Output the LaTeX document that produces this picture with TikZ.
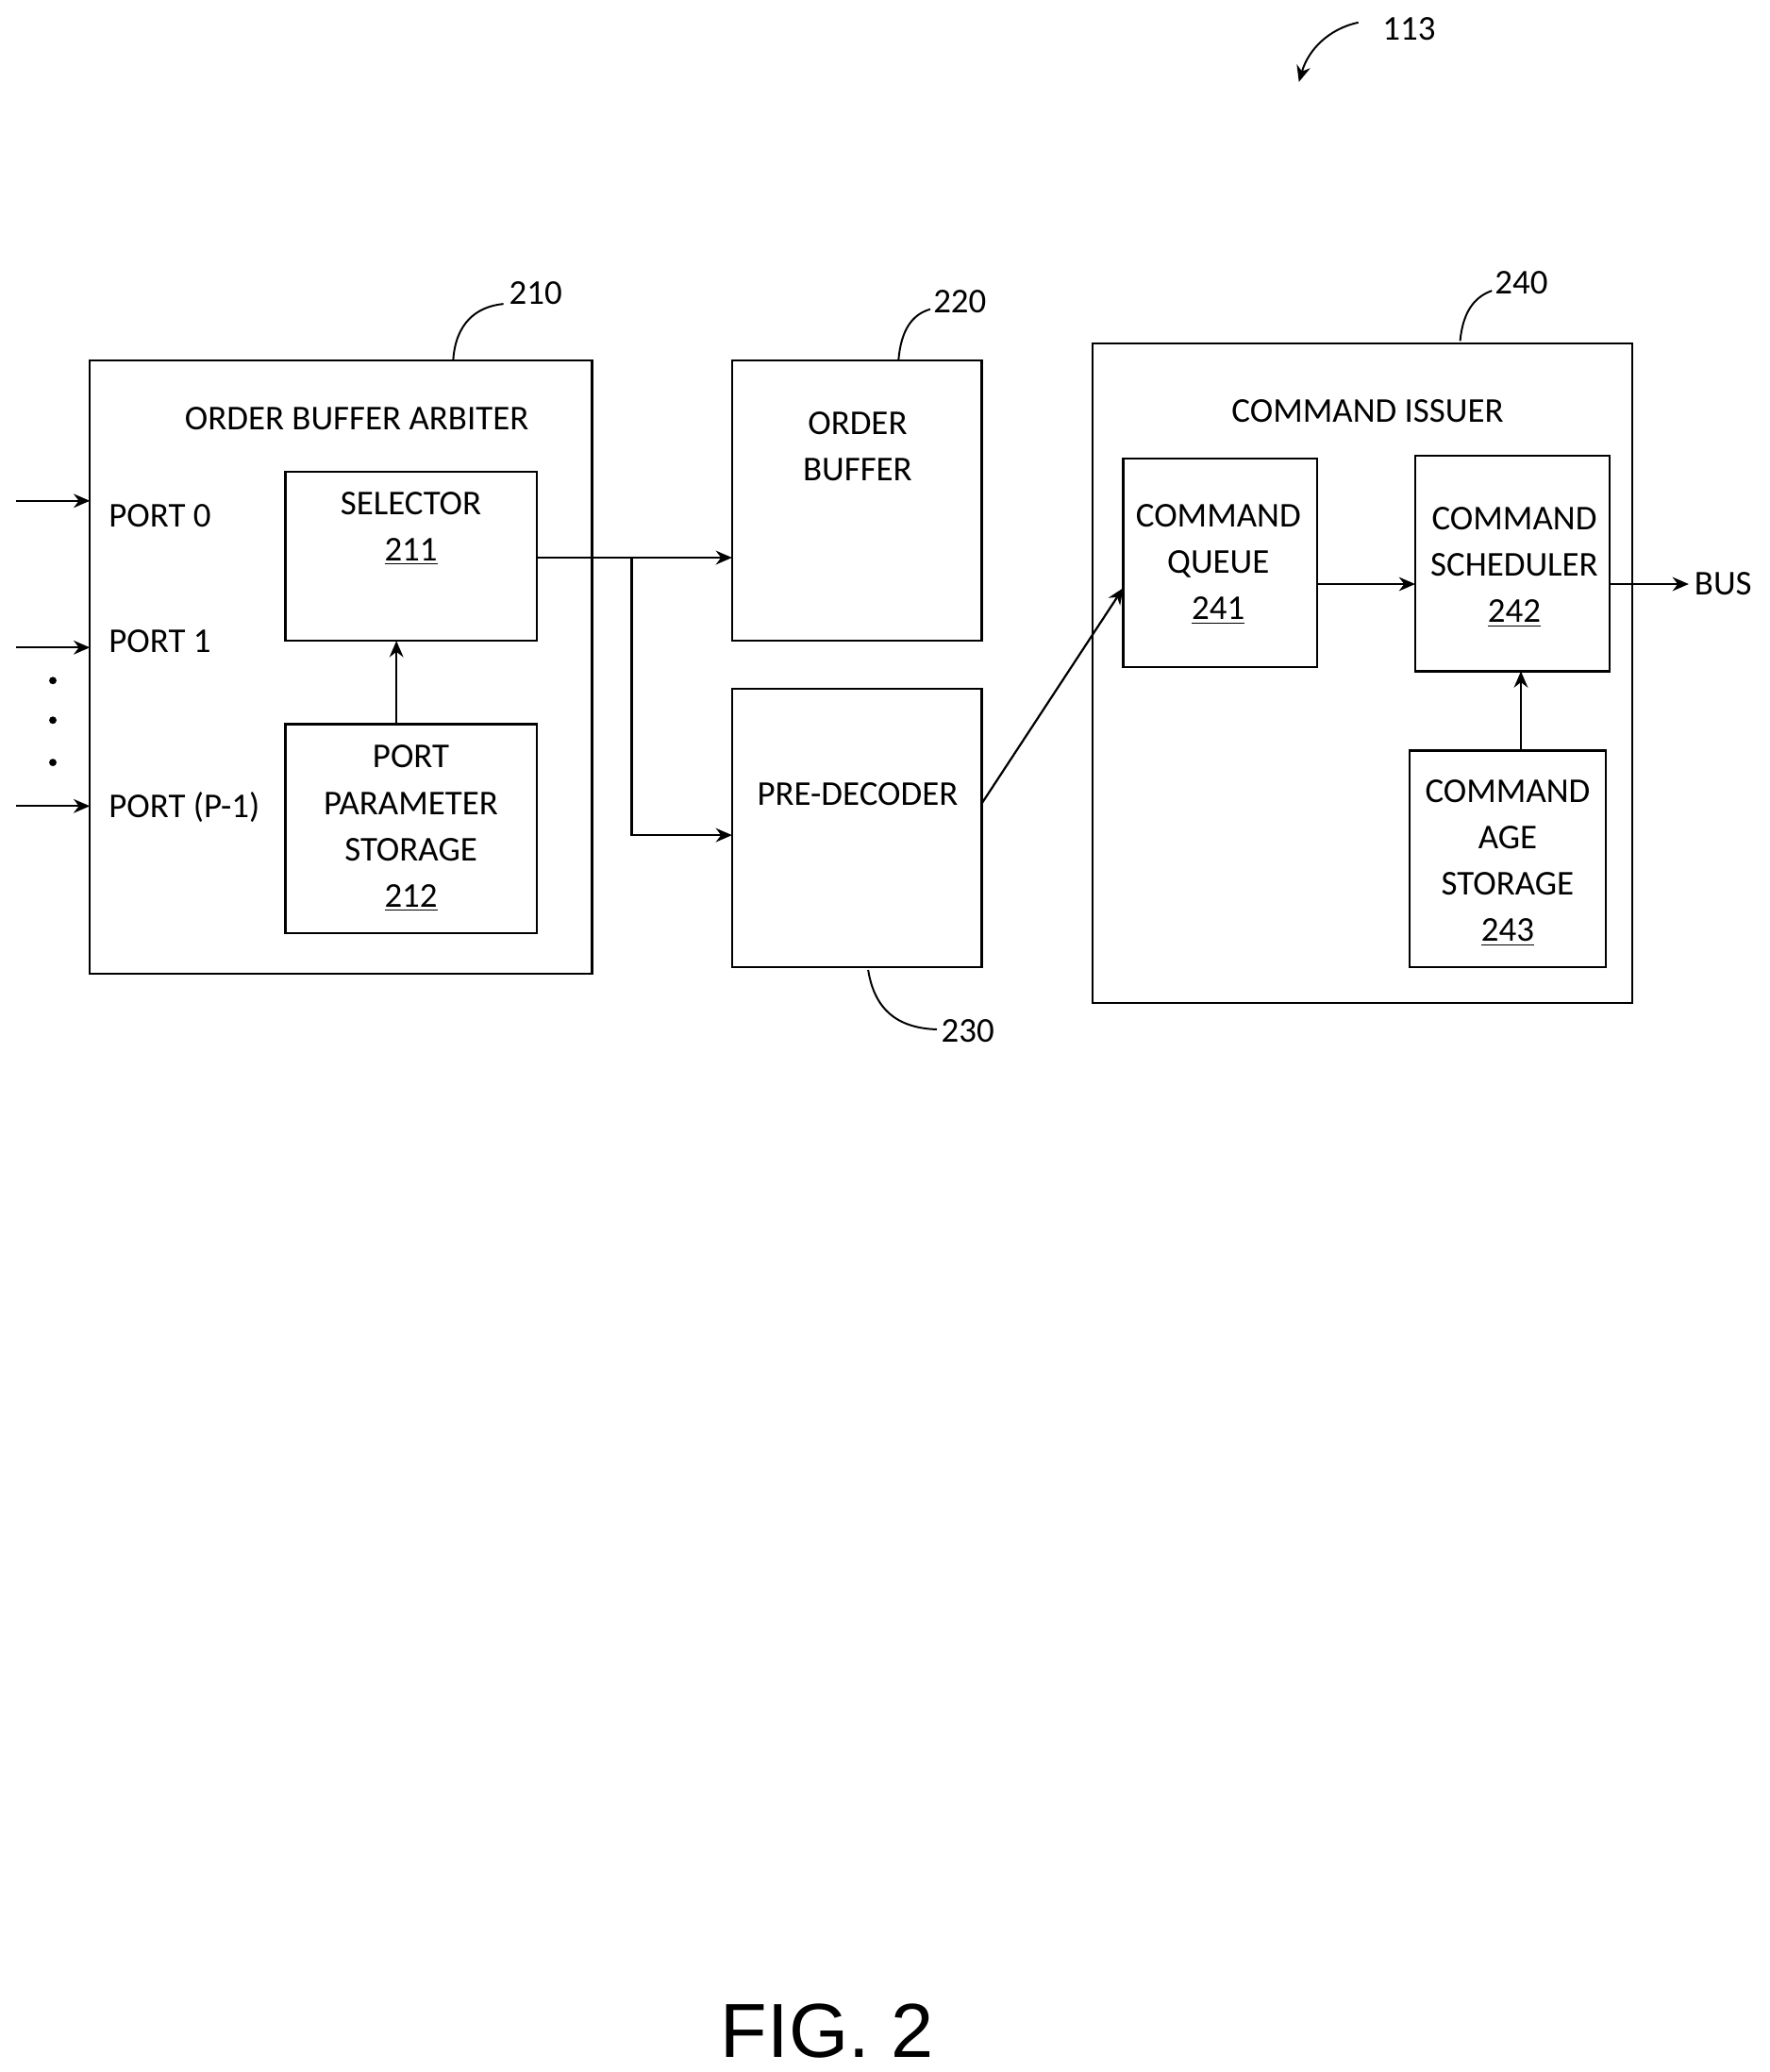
\documentclass[tikz,border=0pt]{standalone}
\usepackage{fontspec}
\setmainfont{Carlito}
\newfontfamily\figfont{Liberation Sans}
\usetikzlibrary{arrows.meta}
\tikzset{
  blk/.style={draw, line width=0.9pt, inner sep=0pt},
  txt/.style={font=\fontsize{15}{18}\selectfont, align=center, inner sep=0pt},
  conn/.style={line width=0.9pt, -{Stealth[length=7pt,width=6pt]}},
  lead/.style={line width=0.8pt}
}
\newcommand{\blkat}[5]{% name, x1, y1, x2, y2
  \path[blk] (#2,#3) rectangle (#4,#5);
  \coordinate (#1-nw) at (#2,#3); \coordinate (#1-se) at (#4,#5);}
\begin{document}
\begin{tikzpicture}[x=0.02cm,y=-0.02cm]
  \useasboundingbox (0,0) rectangle (1339,1568);

  % blocks
  \draw[blk] (68,273) rectangle (448,737);
  \draw[blk] (216,357) rectangle (406,485);
  \draw[blk] (216,548) rectangle (406,706);
  \draw[blk] (554,273) rectangle (743,485);
  \draw[blk] (554,521) rectangle (743,732);
  \draw[blk] (827,260) rectangle (1235,759);
  \draw[blk] (850,347) rectangle (997,505);
  \draw[blk] (1071,345) rectangle (1218,508);
  \draw[blk] (1067,568) rectangle (1215,732);

  % texts
  \node[txt] (arb)  at (270,317) {ORDER BUFFER ARBITER};
  \node[txt] (sel)  at (311,400) {SELECTOR\\[2pt]\underline{211}};
  \node[txt] (pps)  at (311,627) {PORT\\[2pt]PARAMETER\\[2pt]STORAGE\\[2pt]\underline{212}};
  \node[txt] (ob)   at (649,338) {ORDER\\[2pt]BUFFER};
  \node[txt] (pd)   at (649,601) {PRE-DECODER};
  \node[txt] (ci)   at (1035,311) {COMMAND ISSUER};
  \node[txt] (cq)   at (922,427) {COMMAND\\[2pt]QUEUE\\[2pt]\underline{241}};
  \node[txt] (cs)   at (1146,429) {COMMAND\\[2pt]SCHEDULER\\[2pt]\underline{242}};
  \node[txt] (ca)   at (1141,653) {COMMAND\\[2pt]AGE\\[2pt]STORAGE\\[2pt]\underline{243}};
  \node[txt,anchor=west] (p0) at (82,390) {PORT 0};
  \node[txt,anchor=west] (p1) at (82,485) {PORT 1};
  \node[txt,anchor=west] (pp) at (82,611) {PORT (P-1)};
  \node[txt,anchor=west] (bus) at (1282,442) {BUS};

  % ports
  \coordinate (in0) at (12,379); \coordinate (e0) at (68,379);
  \coordinate (in1) at (12,490); \coordinate (e1) at (68,490);
  \coordinate (in2) at (12,610); \coordinate (e2) at (68,610);
  \foreach \i in {0,1,2} \draw[conn] (in\i) -- (e\i);
  \foreach \y in {515,545,577} \fill (40,\y) circle (1.6pt);

  % connectors
  \coordinate (selout) at (406,422);
  \coordinate (obin) at (554,422);
  \coordinate (br) at (478,422);
  \coordinate (pdin) at (554,632);
  \draw[conn] (selout) -- (obin);
  \draw[conn] (br) |- (pdin);
  \draw[conn] (300,548) -- (300,485);
  \draw[conn] (743,608) -- (850,445);
  \draw[conn] (997,442) -- (1071,442);
  \draw[conn] (1218,442) -- (1278,442);
  \draw[conn] (1151,568) -- (1151,508);

  % reference numerals
  \node[txt,anchor=west] (n210) at (385,222) {210};
  \draw[lead] (343,272) .. controls (345,245) and (360,232) .. (381,230);
  \node[txt,anchor=west] (n220) at (706,228) {220};
  \draw[lead] (680,272) .. controls (682,250) and (690,238) .. (704,234);
  \node[txt,anchor=west] (n240) at (1131,214) {240};
  \draw[lead] (1105,258) .. controls (1107,237) and (1115,225) .. (1129,220);
  \node[txt,anchor=west] (n230) at (712,780) {230};
  \draw[lead] (657,734) .. controls (662,765) and (680,778) .. (709,779);
  \node[txt,anchor=west] (n113) at (1046,22) {113};
  \draw[lead,-{Stealth[length=7pt,width=6pt]}] (1028,17) .. controls (1005,22) and (990,38) .. (983,62);

  \node[font=\figfont\fontsize{33}{36}\selectfont, inner sep=0pt] (fig) at (626,1537) {FIG. 2};
\end{tikzpicture}
\end{document}
